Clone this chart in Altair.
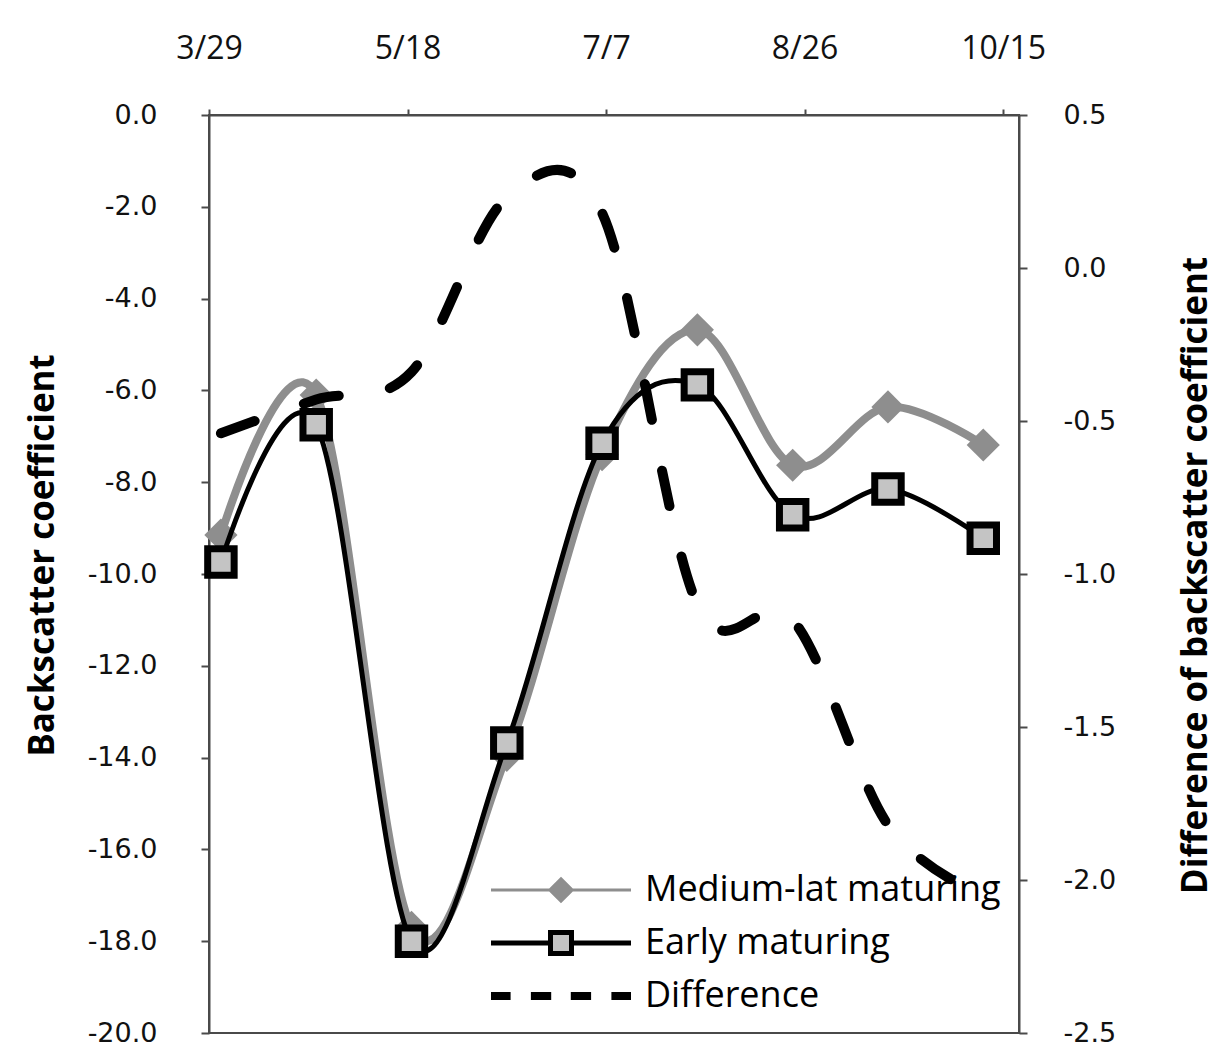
import altair as alt
import pandas as pd

# ---- data ----
dates = ["2012-04-01", "2012-04-25", "2012-05-19", "2012-06-12", "2012-07-06",
         "2012-07-30", "2012-08-23", "2012-09-16", "2012-10-10"]
medium = [-9.15, -6.10, -17.70, -13.95, -7.40, -4.68, -7.63, -6.36, -7.19]
early = [-9.74, -6.75, -18.00, -13.68, -7.15, -5.88, -8.71, -8.15, -9.22]
diff = [-0.54, -0.43, -0.34, 0.23, 0.18, -1.10, -1.15, -1.82, -2.05]
series_names = ["Medium-lat maturing", "Early maturing", "Difference"]
left_ticks = [0, -2, -4, -6, -8, -10, -12, -14, -16, -18, -20]
right_ticks = [0.5, 0.0, -0.5, -1.0, -1.5, -2.0, -2.5]
x_tick_dates = [(3, 29), (5, 18), (7, 7), (8, 26), (10, 15)]

df = pd.DataFrame({"date": dates, "medium": medium, "early": early, "diff": diff,
                   "series": series_names[0]})

GRAY = "#8e8e8e"
LIGHT = "#c4c4c4"
BLACK = "#000000"
AX = "#4a4a4a"

x_enc = alt.X(
    "date:T",
    scale=alt.Scale(domain=[alt.DateTime(year=2012, month=3, date=29),
                            alt.DateTime(year=2012, month=10, date=19)]),
    axis=alt.Axis(orient="top",
                  values=[alt.DateTime(year=2012, month=m, date=d) for m, d in x_tick_dates],
                  format="%-m/%-d", labelFont="Open Sans", labelFontSize=32,
                  labelColor="#111", labelPadding=44, tickSize=6, labelFlush=False),
    title=None,
)

neg_expr = "(datum.value < 0 ? '-' : '') + format(abs(datum.value), '.1f')"

left_axis = alt.Axis(values=left_ticks, labelExpr=neg_expr, title="Backscatter coefficient",
                     labelFont="DejaVu Sans", labelFontSize=27, labelColor="#111",
                     labelPadding=44, tickSize=8,
                     titleFont="Open Sans", titleFontSize=35, titleFontWeight="bold",
                     titleAngle=270, titleX=-167, titleY=440, titleBaseline="middle",
                     titleAlign="center", titleColor="#000")
left_scale = alt.Scale(domain=[-20, 0], nice=False, zero=False)

right_axis = alt.Axis(orient="right", values=right_ticks, labelExpr=neg_expr,
                      title="Difference of backscatter coefficient",
                      labelFont="DejaVu Sans", labelFontSize=27, labelColor="#111",
                      labelPadding=36, tickSize=8,
                      titleFont="Open Sans", titleFontSize=35, titleFontWeight="bold",
                      titleAngle=270, titleX=176, titleY=460, titleBaseline="middle",
                      titleAlign="center", titleColor="#000")
right_scale = alt.Scale(domain=[-2.5, 0.5], nice=False, zero=False)

base = alt.Chart(df)

DIA = "M-1,0H1M0,-0.16L0.16,0L0,0.16L-0.16,0Z"
SQ = "M-1,0H-0.15M0.15,0H1M-0.15,-0.15H0.15V0.15H-0.15Z"
DASH = "M-1,0H-0.72M-0.43,0H-0.14M0.14,0H0.43M0.72,0H1"

legend = alt.Legend(
    title=None, orient="none", legendX=276, legendY=757,
    symbolType={"expr": f"datum.value == 'Difference' ? '{DASH}' : datum.value == 'Early maturing' ? '{SQ}' : '{DIA}'"},
    symbolFillColor={"expr": f"datum.value == 'Early maturing' ? '{LIGHT}' : datum.value == 'Difference' ? 'transparent' : '{GRAY}'"},
    symbolStrokeColor={"expr": f"datum.value == 'Medium-lat maturing' ? '{GRAY}' : '#000'"},
    symbolStrokeWidth={"expr": "datum.value == 'Medium-lat maturing' ? 3 : datum.value == 'Early maturing' ? 5 : 8"},
    symbolSize=19600, symbolOpacity=1, symbolOffset=58,
    labelFont="Open Sans", labelFontSize=36, labelColor="#000", labelOffset=66,
    rowPadding=14, padding=0, labelLimit=600,
)

medium_line = base.mark_line(color=GRAY, strokeWidth=8, interpolate="cardinal").encode(
    x=x_enc, y=alt.Y("medium:Q", scale=left_scale, axis=left_axis))
medium_pts = base.mark_point(shape="diamond", filled=True, size=1100, opacity=1).encode(
    x=x_enc, y=alt.Y("medium:Q", scale=left_scale, axis=left_axis),
    color=alt.Color("series:N", scale=alt.Scale(domain=series_names, range=[GRAY, LIGHT, BLACK]),
                    legend=legend))
early_line = base.mark_line(color=BLACK, strokeWidth=5, interpolate="cardinal").encode(
    x=x_enc, y=alt.Y("early:Q", scale=left_scale, axis=left_axis))
early_pts = base.mark_point(shape="square", filled=True, size=700, fill=LIGHT, stroke=BLACK,
                            strokeWidth=7, opacity=1, fillOpacity=1, strokeOpacity=1).encode(
    x=x_enc, y=alt.Y("early:Q", scale=left_scale, axis=left_axis))

left = alt.layer(medium_line, medium_pts, early_line, early_pts)

diff_line = base.mark_line(color=BLACK, strokeWidth=10, strokeDash=[36, 52], strokeCap="round",
                           interpolate="cardinal").encode(
    x=x_enc, y=alt.Y("diff:Q", scale=right_scale, axis=right_axis))

chart = alt.layer(left, diff_line).resolve_scale(y="independent").properties(
    width=810, height=918,
    padding={"left": 209, "top": 115, "right": 196, "bottom": 17},
    autosize=alt.AutoSizeParams(type="none"),
    background="white",
).configure_view(stroke=AX, strokeWidth=2).configure_axis(
    grid=False, domainColor=AX, domainWidth=2, tickColor=AX, tickWidth=2)

chart.save("out.html", embed_options={"renderer": "svg", "actions": False})
